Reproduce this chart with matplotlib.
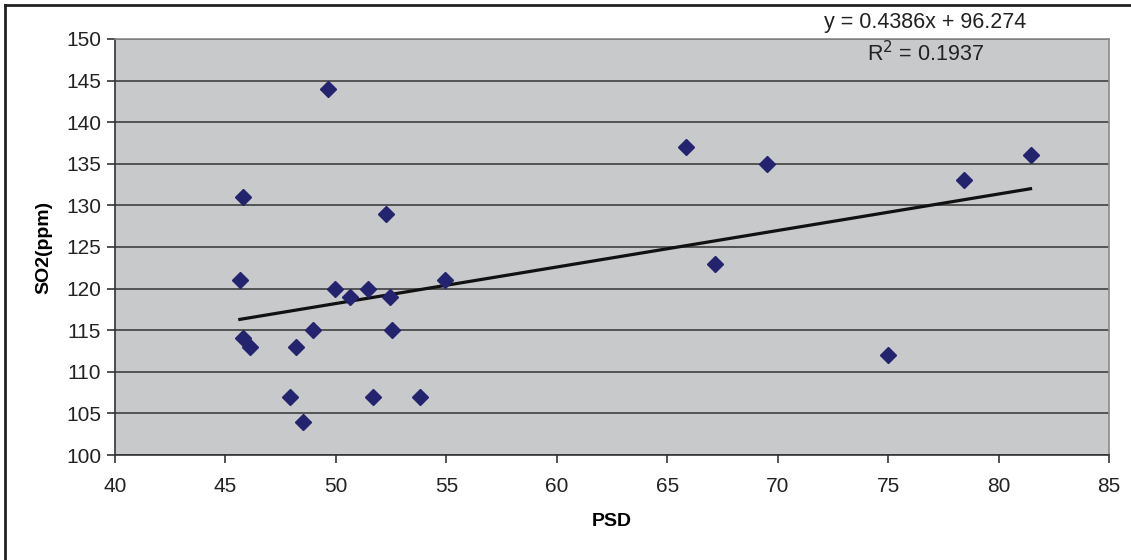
import matplotlib.pyplot as plt
import numpy as np

psd = [45.65, 45.8, 45.8, 46.1, 47.9, 48.2, 48.5, 48.95, 49.65, 49.95, 50.65,
       51.45, 51.7, 52.25, 52.45, 52.55, 53.8, 54.95, 65.85, 67.15, 69.5,
       75.0, 78.45, 81.45]
so2 = [121, 131, 114, 113, 107, 113, 104, 115, 144, 120, 119,
       120, 107, 129, 119, 115, 107, 121, 137, 123, 135,
       112, 133, 136]

slope = 0.4386
intercept = 96.274
r2 = 0.1937

x_label = "PSD"
y_label = "SO2(ppm)"

# ==================================================================

plt.rcParams['font.family'] = ['Liberation Sans', 'DejaVu Sans']

fig = plt.figure(figsize=(11.31, 5.6), dpi=100)
ax = fig.add_axes([0.1017, 0.1875, 0.8788, 0.743])

ax.set_facecolor('#c8c9cb')
ax.set_xlim(40, 85)
ax.set_ylim(100, 150)
ax.set_xticks(np.arange(40, 86, 5))
ax.set_yticks(np.arange(100, 151, 5))
ax.yaxis.grid(True, color='#4a4a4a', linewidth=1.3)
ax.set_axisbelow(True)

for side in ['left', 'bottom']:
    ax.spines[side].set_color('#333333')
    ax.spines[side].set_linewidth(1.2)
for side in ['right', 'top']:
    ax.spines[side].set_color('#8a8a8a')
    ax.spines[side].set_linewidth(1.2)

ax.tick_params(axis='both', direction='out', length=6, width=1.2,
               color='#333333', labelsize=15, labelcolor='#222222')
ax.tick_params(axis='x', pad=10)
ax.tick_params(axis='y', pad=4)

ax.plot(psd, so2, linestyle='none', marker='D', markersize=8,
        color='#23236e', zorder=3)

xfit = np.array([min(psd), max(psd)])
ax.plot(xfit, slope * xfit + intercept, color='#111111', linewidth=2.3, zorder=2)

ax.set_xlabel(x_label, fontsize=14, fontweight='bold', labelpad=12)
ax.set_ylabel(y_label, fontsize=14, fontweight='bold', labelpad=10)

fig.text(0.818, 0.96, "y = %.4fx + %.3f" % (slope, intercept),
         ha='center', va='center', fontsize=15.5, color='#222222')
fig.text(0.818, 0.905, "R$^2$ = %.4f" % r2,
         ha='center', va='center', fontsize=15.5, color='#222222')

# outer frame (left and top edges visible)
fig.add_artist(plt.Line2D([0.0044, 0.0044], [0.0, 0.991], color='#222222',
                          linewidth=2, transform=fig.transFigure))
fig.add_artist(plt.Line2D([0.0044, 1.0], [0.991, 0.991], color='#222222',
                          linewidth=2, transform=fig.transFigure))

plt.savefig("out.png", dpi=100)
